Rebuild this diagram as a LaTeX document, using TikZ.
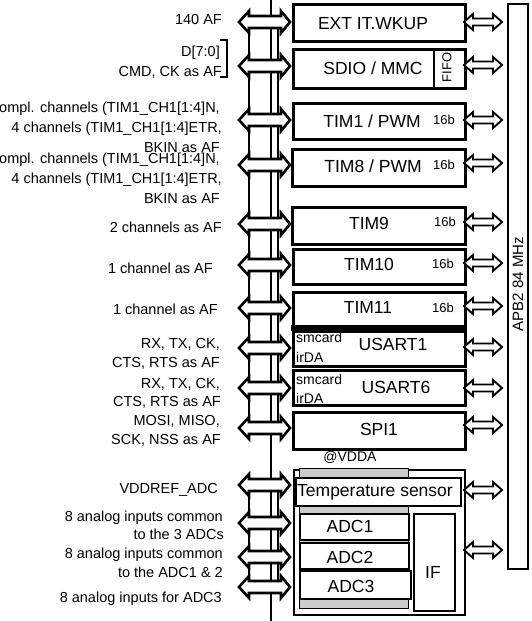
\documentclass[tikz,border=0pt]{standalone}
\usepackage{fontspec}
\setmainfont{Liberation Sans}
\begin{document}
\begin{tikzpicture}[x=1pt,y=-1pt,
  pinline/.style={draw, fill=white, line width=2.6pt, line join=miter},
  busline/.style={line width=2.8pt},
  sideline/.style={line width=2.3pt},
  portline/.style={draw, fill=white, line width=1.9pt, line join=miter},
  box/.style={draw, line width=2.5pt, fill=white, inner sep=0pt, anchor=north west},
  adcbox/.style={draw, line width=1.8pt, fill=white, inner sep=0pt, anchor=north west},
  lbl/.style={anchor=base east, inner sep=0pt, font=\fontsize{14.5}{17}\selectfont},
  big/.style={anchor=base, inner sep=0pt, font=\fontsize{17.5}{20}\selectfont},
  sm/.style={anchor=base, inner sep=0pt, font=\fontsize{13}{15}\selectfont},
  card/.style={anchor=base west, inner sep=0pt, font=\fontsize{14}{16}\selectfont},
  pinarrow/.pic={\path[pinline] (-32,0) -- (-22,-11) -- (-22,-6) -- (10,-6) -- (10,-11) -- (19,0) -- (10,11) -- (10,6) -- (-22,6) -- (-22,11) -- cycle;},
  portarrow/.pic={\path[portline] (0,0) -- (9,-8) -- (9,-3.5) -- (29,-3.5) -- (29,-8) -- (38,0) -- (29,8) -- (29,3.5) -- (9,3.5) -- (9,8) -- cycle;}
]
\useasboundingbox (0,0) rectangle (531,621);
\clip (0,0) rectangle (531,621);

% central bus line and side rails
\coordinate (bustop) at (271,0);
\coordinate (busbot) at (271,621);
\draw[busline] (bustop) -- (busbot);
\coordinate (ra1) at (249,22); \coordinate (ra2) at (249,428);
\coordinate (rb1) at (278,22); \coordinate (rb2) at (278,428);
\draw[sideline] (ra1) -- (ra2) (rb1) -- (rb2);
\coordinate (rc1) at (249,485); \coordinate (rc2) at (249,587);
\coordinate (rd1) at (278,485); \coordinate (rd2) at (278,587);
\draw[sideline] (rc1) -- (rc2) (rd1) -- (rd2);

% pin arrows
\foreach \y in {22,66,120,165,224,265,308,348,388,428,485,523,557,587}
  \pic at (271,\y) {pinarrow};

% left labels
\node[lbl] (l1) at (222,24) {140 AF};
\node[lbl] (l2a) at (220,56) {D[7:0]};
\node[lbl] (l2b) at (222,76) {CMD, CK as AF};
\coordinate (br1) at (220,40); \coordinate (br2) at (227,40);
\coordinate (br3) at (227,77); \coordinate (br4) at (220,77);
\draw[line width=2pt] (br1) -- (br2) -- (br3) -- (br4);
\node[lbl] (l3a) at (220,112) {3 compl. channels (TIM1\_CH1[1:4]N,};
\node[lbl] (l3b) at (222,132) {4 channels (TIM1\_CH1[1:4]ETR,};
\node[lbl] (l3c) at (220,152) {BKIN as AF};
\node[lbl] (l4a) at (220,163) {3 compl. channels (TIM1\_CH1[1:4]N,};
\node[lbl] (l4b) at (222,183) {4 channels (TIM1\_CH1[1:4]ETR,};
\node[lbl] (l4c) at (220,203) {BKIN as AF};
\node[lbl] (l5) at (222,232) {2 channels as AF};
\node[lbl] (l6) at (213,273) {1 channel as AF};
\node[lbl] (l7) at (218,314) {1 channel as AF};
\node[lbl] (l8a) at (220,348) {RX, TX, CK,};
\node[lbl] (l8b) at (220,367) {CTS, RTS as AF};
\node[lbl] (l9a) at (220,388) {RX, TX, CK,};
\node[lbl] (l9b) at (221,406) {CTS, RTS as AF};
\node[lbl] (l10a) at (220,425) {MOSI, MISO,};
\node[lbl] (l10b) at (221,444) {SCK, NSS as AF};
\node[lbl] (l11) at (218,493) {VDDREF\_ADC};
\node[lbl] (l12a) at (223,521) {8 analog inputs common};
\node[lbl] (l12b) at (224,539) {to the 3 ADCs};
\node[lbl] (l13a) at (223,558) {8 analog inputs common};
\node[lbl] (l13b) at (223,577) {to the ADC1 \& 2};
\node[lbl] (l14) at (222,602) {8 analog inputs for ADC3};

% peripheral boxes
\node[box, minimum width=172pt, minimum height=37pt] (ext) at (292,3) {};
\node[box, minimum width=172pt, minimum height=39pt] (sdio) at (292,48) {};
\coordinate (ff1) at (434,48); \coordinate (ff2) at (434,87);
\draw[line width=2.5pt] (ff1) -- (ff2);
\node[box, minimum width=172pt, minimum height=36pt] (tim1) at (292,102) {};
\node[box, minimum width=173pt, minimum height=37pt] (tim8) at (291,148) {};
\node[box, minimum width=173pt, minimum height=37pt] (tim9) at (291,206) {};
\node[box, minimum width=172pt, minimum height=35pt] (tim10) at (292,248) {};
\node[box, minimum width=172pt, minimum height=37pt] (tim11) at (292,291) {};
\node[box, minimum width=172pt, minimum height=35pt] (usart1) at (292,330) {};
\fill (291,325) rectangle (465,331);
\node[box, minimum width=172pt, minimum height=35pt] (usart6) at (292,369) {};
\node[box, minimum width=172pt, minimum height=37pt] (spi1) at (292,411) {};

\node[big] (t_ext) at (373,29) {EXT IT.WKUP};
\node[big] (t_sdio) at (373,74) {SDIO / MMC};
\node[sm, anchor=center, rotate=90] (t_fifo) at (447,67.5) {FIFO};
\node[big] (t_tim1) at (372,127) {TIM1 / PWM};
\node[sm] (b_tim1) at (444,124) {16b};
\node[big] (t_tim8) at (373,172) {TIM8 / PWM};
\node[sm] (b_tim8) at (444,169) {16b};
\node[big] (t_tim9) at (369,229) {TIM9};
\node[sm] (b_tim9) at (445,226) {16b};
\node[big] (t_tim10) at (369,270) {TIM10};
\node[sm] (b_tim10) at (443,268) {16b};
\node[big] (t_tim11) at (368,313) {TIM11};
\node[sm] (b_tim11) at (443,312) {16b};
\node[card] (c1a) at (296,342) {smcard};
\node[card] (c1b) at (296,362) {irDA};
\node[big] (t_us1) at (393,350) {USART1};
\node[card] (c6a) at (296,384) {smcard};
\node[card] (c6b) at (296,403) {irDA};
\node[big] (t_us6) at (396,393) {USART6};
\node[big] (t_spi) at (379,435) {SPI1};

% ADC group
\node[sm, font=\fontsize{14}{16}\selectfont] (vdda) at (350,461) {@VDDA};
\node[adcbox, line width=1.6pt, minimum width=171pt, minimum height=145pt] (adcgrp) at (293,469) {};
\node[adcbox, fill=black!20, line width=1.4pt, minimum width=109pt, minimum height=140pt] (gray) at (299,468) {};
\node[adcbox, minimum width=165pt, minimum height=28pt] (temp) at (295,477) {};
\node[adcbox, minimum width=109pt, minimum height=26pt] (adc1) at (299,513) {};
\node[adcbox, minimum width=109pt, minimum height=26pt] (adc2) at (299,542) {};
\node[adcbox, minimum width=111pt, minimum height=28pt] (adc3) at (299,570) {};
\node[adcbox, minimum width=41pt, minimum height=97pt] (if) at (413,513) {};
\node[big] (t_temp) at (375,496) {Temperature sensor};
\node[big] (t_adc1) at (350,532) {ADC1};
\node[big] (t_adc2) at (350,563) {ADC2};
\node[big] (t_adc3) at (351,592) {ADC3};
\node[big] (t_if) at (433,578) {IF};

% APB2 bus
\node[draw, line width=2pt, inner sep=0pt, anchor=north west, minimum width=20pt, minimum height=565pt] (apb) at (507,3) {};
\node[inner sep=0pt, rotate=90, font=\fontsize{15}{17}\selectfont] (t_apb) at (518,284) {APB2 84 MHz};

% port arrows to APB2
\foreach \y in {22,65,120,163,222,263,306,347,388,425,490,550}
  \pic at (464,\y) {portarrow};
\end{tikzpicture}
\end{document}
